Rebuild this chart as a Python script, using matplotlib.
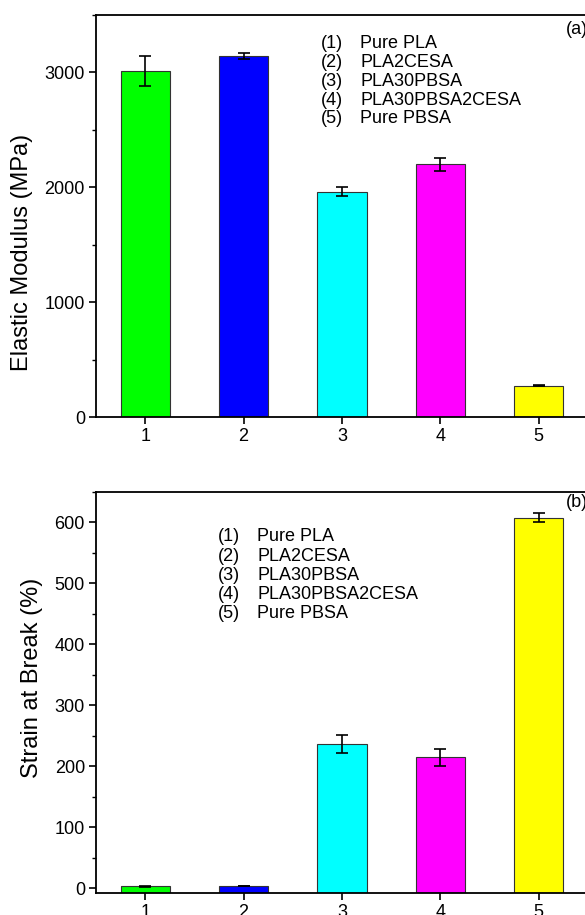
import matplotlib
matplotlib.use("Agg")
import matplotlib.pyplot as plt
from matplotlib.ticker import MultipleLocator

plt.rcParams["font.family"] = ["Liberation Sans", "DejaVu Sans"]

samples = [1, 2, 3, 4, 5]
sample_names = ["Pure PLA", "PLA2CESA", "PLA30PBSA", "PLA30PBSA2CESA", "Pure PBSA"]
bar_colors = ["#00ff00", "#0000ff", "#00ffff", "#ff00ff", "#ffff00"]

modulus = [3010, 3142, 1960, 2200, 273]
modulus_err = [130, 26, 40, 57, 6]

strain = [3.0, 3.5, 236, 215, 608]
strain_err = [0.6, 0.6, 14.5, 14, 7]

W, H = 585, 915
fig = plt.figure(figsize=(W / 100, H / 100), dpi=100)


def frame(left, top, right, bottom):
    return [left / W, 1 - bottom / H, (right - left) / W, (bottom - top) / H]


def draw_panel(ax, values, errors, ymin, ymax, major, minor, ylabel, label_xy,
               tag, tag_y, leg_x, leg_y, leg_dy):
    ax.bar(samples, [v - ymin for v in values], bottom=ymin, width=0.5,
           color=bar_colors, edgecolor="#333333", linewidth=0.8, zorder=2)
    ax.errorbar(samples, values, yerr=errors, fmt="none", ecolor="black",
                elinewidth=1.2, capsize=4.5, capthick=1.2, zorder=3)
    ax.set_xlim(0.5, 5.5)
    ax.set_ylim(ymin, ymax)
    ax.set_xticks(samples)
    ax.yaxis.set_major_locator(MultipleLocator(major))
    ax.yaxis.set_minor_locator(MultipleLocator(minor))
    ax.tick_params(axis="both", which="major", direction="out", length=5,
                   width=1.2, labelsize=13, colors="black", pad=3)
    ax.tick_params(axis="y", which="minor", direction="out", length=3, width=1.0)
    ax.tick_params(axis="y", which="both", right=False)
    ax.tick_params(axis="x", which="both", top=False)
    for s in ax.spines.values():
        s.set_linewidth(1.3)
    ax.set_ylabel(ylabel, fontsize=17)
    ax.yaxis.set_label_coords(*label_xy)
    ax.text(0.955, tag_y, tag, transform=ax.transAxes, fontsize=13,
            ha="left", va="center")
    for i, name in enumerate(sample_names):
        y = leg_y - i * leg_dy
        ax.text(leg_x, y, f"({i + 1})", transform=ax.transAxes,
                fontsize=13, ha="left", va="center")
        ax.text(leg_x + 0.08, y, name, transform=ax.transAxes,
                fontsize=13, ha="left", va="center")


ax_a = fig.add_axes(frame(96, 15, 588, 417))
draw_panel(ax_a, modulus, modulus_err, 0, 3500, 1000, 500,
           "Elastic Modulus (MPa)", (-0.128, 0.41), "(a)", 0.963,
           0.457, 0.928, 0.0466)

ax_b = fig.add_axes(frame(96, 492, 588, 893))
draw_panel(ax_b, strain, strain_err, -8, 650, 100, 50,
           "Strain at Break (%)", (-0.108, 0.536), "(b)", 0.975,
           0.248, 0.888, 0.048)

fig.savefig("out.png", dpi=100)
